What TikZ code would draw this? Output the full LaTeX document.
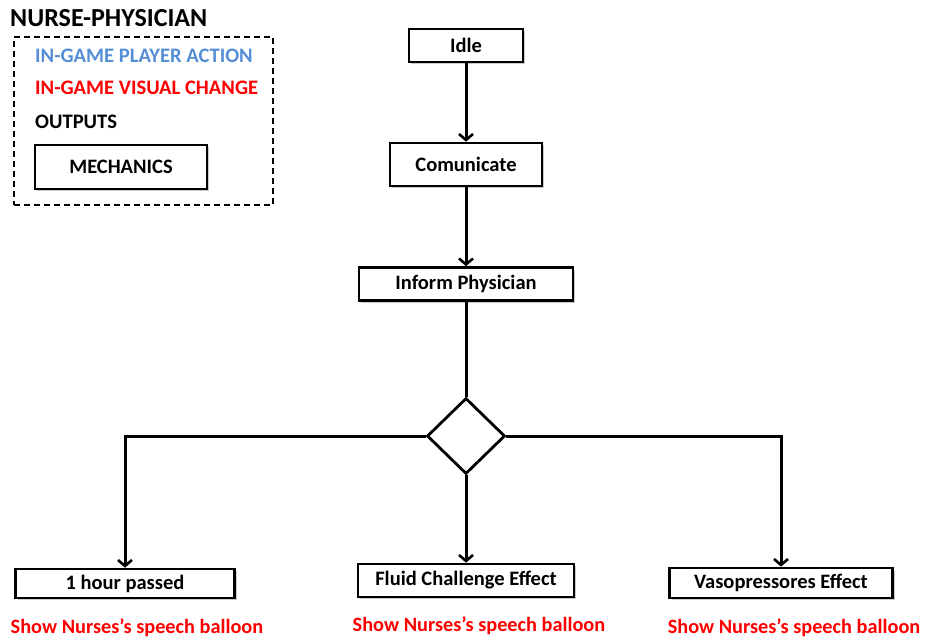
\documentclass[tikz,border=0pt]{standalone}
\usepackage{fontspec}
\setmainfont{Carlito}
\usetikzlibrary{arrows.meta,shapes.geometric,shadows}
\definecolor{actionblue}{RGB}{85,142,213}
\definecolor{changered}{RGB}{255,0,0}
\begin{document}
\begin{tikzpicture}[x=1pt,y=-1pt,
  stepbox/.style={draw=black,line width=2.6pt,fill=white,inner sep=0pt,
    font=\bfseries\fontsize{20.5}{23}\selectfont,
    drop shadow={shadow xshift=2pt,shadow yshift=-2pt,opacity=0.35,fill=black!60}},
  decision/.style={diamond,draw=black,line width=2.8pt,fill=white,inner sep=0pt,
    minimum width=78pt,minimum height=76pt},
  flow/.style={line width=3pt,-{Straight Barb[length=6pt,width=14pt,line width=2.6pt]}},
  link/.style={line width=3pt},
  redtext/.style={text=changered,font=\bfseries\fontsize{20.3}{23}\selectfont},
  legendtext/.style={anchor=west,inner sep=0pt,font=\bfseries\fontsize{20.6}{23}\selectfont}]
\useasboundingbox (0,0) rectangle (925,639);

% title and legend
\node[anchor=west,inner sep=0pt,font=\bfseries\fontsize{26}{29}\selectfont] (title) at (10,18) {NURSE-PHYSICIAN};
\node[draw=black,line width=2.2pt,dash pattern=on 6pt off 4pt,minimum width=259pt,minimum height=168pt,inner sep=0pt] (legend) at (143.5,121) {};
\node[legendtext,text=actionblue] (lgaction) at (35,56) {IN-GAME PLAYER ACTION};
\node[legendtext,text=changered] (lgchange) at (35,88) {IN-GAME VISUAL CHANGE};
\node[legendtext] (lgout) at (35,122) {OUTPUTS};
\node[stepbox,minimum width=172pt,minimum height=44pt] (lgmech) at (121,167) {MECHANICS};

% main flow
\node[stepbox,minimum width=114pt,minimum height=33pt] (idle) at (466,45.5) {Idle};
\node[stepbox,minimum width=152pt,minimum height=43pt] (com) at (466,164.5) {Comunicate};
\node[stepbox,minimum width=214pt,minimum height=33pt] (inform) at (466,284) {Inform Physician};
\node[decision] (dec) at (466,436) {};

\node[stepbox,minimum width=219pt,minimum height=29pt] (hour) at (125,583.5) {1 hour passed};
\node[stepbox,minimum width=216pt,minimum height=33pt] (fluid) at (466,580.5) {Fluid Challenge Effect};
\node[stepbox,minimum width=223pt,minimum height=30pt] (vaso) at (781,583) {Vasopressores Effect};

\node[redtext] (hourout) at (137,628) {Show Nurses’s speech balloon};
\node[redtext] (fluidout) at (479,626) {Show Nurses’s speech balloon};
\node[redtext] (vasoout) at (794,628) {Show Nurses’s speech balloon};

% connectors
\draw[flow] (idle.south) -- (com.north);
\draw[flow] (com.south) -- (inform.north);
\draw[link] (inform.south) -- (dec.north);
\draw[flow] (dec.west) -| (hour.north);
\draw[flow] (dec.east) -| (vaso.north);
\draw[flow] (dec.south) -- (fluid.north);
\end{tikzpicture}
\end{document}
